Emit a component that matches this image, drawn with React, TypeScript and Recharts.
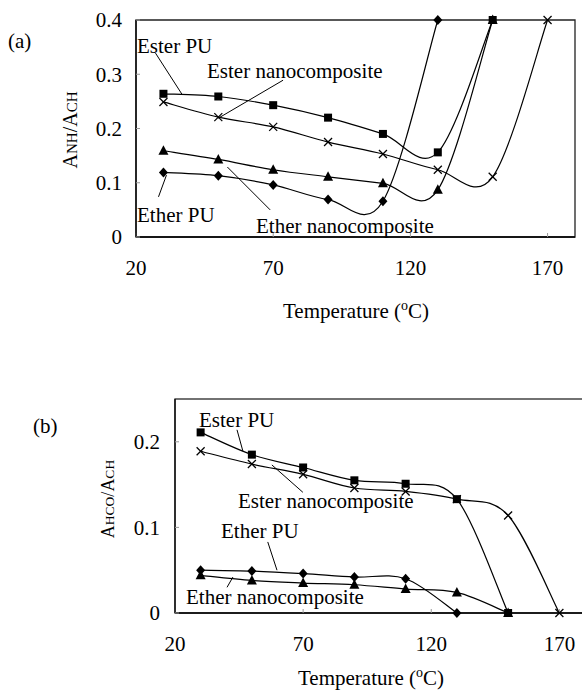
import React from "react";
import { LineChart, Line, XAxis, YAxis, ReferenceArea, ReferenceLine } from "recharts";

// temperatures (°C) shared by both panels
const temps = [30, 50, 70, 90, 110, 130, 150, 170];

// (a) A_NH / A_CH
const esterPuA = [0.264, 0.259, 0.243, 0.22, 0.19, 0.156, 0.4];
const esterNanoA = [0.249, 0.221, 0.203, 0.175, 0.153, 0.124, 0.111, 0.4];
const etherNanoA = [0.159, 0.143, 0.124, 0.111, 0.099, 0.087, 0.4];
const etherPuA = [0.119, 0.113, 0.096, 0.069, 0.066, 0.4];

// (b) A_HCO / A_CH
const esterPuB = [0.211, 0.185, 0.17, 0.155, 0.151, 0.133, 0];
const esterNanoB = [0.189, 0.174, 0.162, 0.146, 0.142, 0.133, 0.114, 0];
const etherPuB = [0.05, 0.049, 0.046, 0.042, 0.04, 0];
const etherNanoB = [0.044, 0.038, 0.035, 0.033, 0.028, 0.024, 0];

const xTicks = [20, 70, 120, 170];
const yTicksA = [0, 0.1, 0.2, 0.3, 0.4];
const yTicksB = [0, 0.1, 0.2];

// leader lines from labels to curves, in data units
const leadersA = [
  [{ x: 27.1, y: 0.339 }, { x: 36.9, y: 0.262 }],
  [{ x: 73.6, y: 0.289 }, { x: 50, y: 0.219 }],
  [{ x: 28.2, y: 0.074 }, { x: 31.1, y: 0.114 }],
  [{ x: 53.3, y: 0.129 }, { x: 68.9, y: 0.05 }],
];
const leadersB = [
  [{ x: 44.2, y: 0.214 }, { x: 46.5, y: 0.189 }],
  [{ x: 57.8, y: 0.173 }, { x: 69.9, y: 0.141 }],
  [{ x: 56.2, y: 0.083 }, { x: 59.8, y: 0.05 }],
  [{ x: 40.3, y: 0.03 }, { x: 42.6, y: 0.042 }],
];

const FONT = "'Liberation Serif', 'Times New Roman', serif";

function buildRows(series: Record<string, number[]>) {
  return temps.map((t, i) => {
    const row: Record<string, number | null> = { t };
    Object.keys(series).forEach((k) => {
      row[k] = i < series[k].length ? series[k][i] : null;
    });
    return row;
  });
}

const dataA = buildRows({ esterPu: esterPuA, esterNano: esterNanoA, etherNano: etherNanoA, etherPu: etherPuA });
const dataB = buildRows({ esterPu: esterPuB, esterNano: esterNanoB, etherNano: etherNanoB, etherPu: etherPuB });

// Excel-like smoothed line (Catmull-Rom through the points)
function smoothCurve(context: any) {
  let pts: number[][] = [];
  return {
    areaStart() {},
    areaEnd() {},
    lineStart() {
      pts = [];
    },
    point(x: number, y: number) {
      pts.push([+x, +y]);
    },
    lineEnd() {
      if (!pts.length) return;
      context.moveTo(pts[0][0], pts[0][1]);
      for (let i = 0; i < pts.length - 1; i++) {
        const p0 = pts[i - 1] || pts[i];
        const p1 = pts[i];
        const p2 = pts[i + 1];
        const p3 = pts[i + 2] || p2;
        context.bezierCurveTo(
          p1[0] + (p2[0] - p0[0]) / 6,
          p1[1] + (p2[1] - p0[1]) / 6,
          p2[0] - (p3[0] - p1[0]) / 6,
          p2[1] - (p3[1] - p1[1]) / 6,
          p2[0],
          p2[1]
        );
      }
    },
  };
}

const SquareDot = (p: any) =>
  p.cy == null ? <g key={p.key} /> : <rect key={p.key} x={p.cx - 4} y={p.cy - 4} width={8} height={8} fill="#000" />;

const DiamondDot = (p: any) =>
  p.cy == null ? (
    <g key={p.key} />
  ) : (
    <polygon
      key={p.key}
      points={`${p.cx},${p.cy - 5} ${p.cx + 4.5},${p.cy} ${p.cx},${p.cy + 5} ${p.cx - 4.5},${p.cy}`}
      fill="#000"
    />
  );

const TriangleDot = (p: any) =>
  p.cy == null ? (
    <g key={p.key} />
  ) : (
    <polygon
      key={p.key}
      points={`${p.cx},${p.cy - 5.5} ${p.cx + 5},${p.cy + 4} ${p.cx - 5},${p.cy + 4}`}
      fill="#000"
    />
  );

const CrossDot = (p: any) =>
  p.cy == null ? (
    <g key={p.key} />
  ) : (
    <g key={p.key} stroke="#000" strokeWidth={1.3}>
      <line x1={p.cx - 4} y1={p.cy - 4} x2={p.cx + 4} y2={p.cy + 4} />
      <line x1={p.cx - 4} y1={p.cy + 4} x2={p.cx + 4} y2={p.cy - 4} />
    </g>
  );

const tickStyle = { fontFamily: FONT, fontSize: 21, fill: "#000" };
const fmt = (v: number) => (v === 0 ? "0" : v.toFixed(1));

function Panel({
  data,
  width,
  height,
  margin,
  yWidth,
  xHeight,
  yMax,
  yTicks,
  yTickMargin,
  xTickMargin,
  leaders,
  boxStroke,
}: any) {
  return (
    <LineChart width={width} height={height} data={data} margin={margin}>
      <ReferenceArea x1={20} x2={180} y1={0} y2={yMax} fill="none" stroke={boxStroke} strokeWidth={1.3} />
      <XAxis
        type="number"
        dataKey="t"
        domain={[20, 180]}
        ticks={xTicks}
        interval={0}
        height={xHeight}
        tick={tickStyle}
        tickSize={-4}
        tickMargin={xTickMargin}
        tickLine={{ stroke: "#999" }}
        axisLine={{ stroke: "#000", strokeWidth: 1.3 }}
      />
      <YAxis
        type="number"
        domain={[0, yMax]}
        ticks={yTicks}
        interval={0}
        width={yWidth}
        tick={tickStyle}
        tickFormatter={fmt}
        tickSize={-4}
        tickMargin={yTickMargin}
        tickLine={{ stroke: "#999" }}
        axisLine={{ stroke: "#000", strokeWidth: 1.3 }}
      />
      {leaders.map((seg: any, i: number) => (
        <ReferenceLine key={i} segment={seg} stroke="#000" strokeWidth={1} />
      ))}
      <Line type={smoothCurve as any} dataKey="esterPu" stroke="#000" strokeWidth={1.2} dot={SquareDot} isAnimationActive={false} />
      <Line type={smoothCurve as any} dataKey="esterNano" stroke="#000" strokeWidth={1.2} dot={CrossDot} isAnimationActive={false} />
      <Line type={smoothCurve as any} dataKey="etherNano" stroke="#000" strokeWidth={1.2} dot={TriangleDot} isAnimationActive={false} />
      <Line type={smoothCurve as any} dataKey="etherPu" stroke="#000" strokeWidth={1.2} dot={DiamondDot} isAnimationActive={false} />
    </LineChart>
  );
}

export default function App() {
  const txt = { fontFamily: FONT, fontSize: 21, fill: "#000" };
  return (
    <div
      style={{
        position: "absolute",
        left: 0,
        top: 0,
        width: 582,
        height: 695,
        overflow: "hidden",
        background: "#fff",
      }}
    >
      <div style={{ position: "absolute", left: 0, top: 0 }}>
        <Panel
          data={dataA}
          width={582}
          height={330}
          margin={{ top: 20, right: 7, left: 0, bottom: 0 }}
          yWidth={136}
          xHeight={93}
          yMax={0.4}
          yTicks={yTicksA}
          yTickMargin={18}
          xTickMargin={27}
          leaders={leadersA}
          boxStroke="#222"
        />
      </div>
      <div style={{ position: "absolute", left: 0, top: 330 }}>
        <Panel
          data={dataB}
          width={600}
          height={365}
          margin={{ top: 69, right: 15, left: 0, bottom: 0 }}
          yWidth={175}
          xHeight={82}
          yMax={0.25}
          yTicks={yTicksB}
          yTickMargin={19}
          xTickMargin={27}
          leaders={leadersB}
          boxStroke="#444"
        />
      </div>
      <svg width={582} height={695} style={{ position: "absolute", left: 0, top: 0, pointerEvents: "none" }}>
        <text x={8} y={48} {...txt}>(a)</text>
        <text x={137} y={53} {...txt}>Ester PU</text>
        <text x={207} y={78} {...txt}>Ester nanocomposite</text>
        <text x={137} y={222} {...txt}>Ether PU</text>
        <text x={256} y={233} {...txt}>Ether nanocomposite</text>
        <text x={283} y={318} {...txt}>
          Temperature (<tspan dy={-8} fontSize={14}>o</tspan>
          <tspan dy={8}>C)</tspan>
        </text>
        <text transform="translate(77,130) rotate(-90)" textAnchor="middle" fontFamily={FONT} fontSize={20} fill="#000">
          A<tspan fontSize={15}>NH</tspan>/A<tspan fontSize={15}>CH</tspan>
        </text>

        <text x={33} y={433} {...txt}>(b)</text>
        <text x={199} y={427} {...txt}>Ester PU</text>
        <text x={238} y={508} {...txt}>Ester nanocomposite</text>
        <text x={221} y={538} {...txt}>Ether PU</text>
        <text x={186} y={604} {...txt}>Ether nanocomposite</text>
        <text x={298} y={685} {...txt}>
          Temperature (<tspan dy={-8} fontSize={14}>o</tspan>
          <tspan dy={8}>C)</tspan>
        </text>
        <text transform="translate(114,499) rotate(-90)" textAnchor="middle" fontFamily={FONT} fontSize={18} fill="#000">
          A<tspan fontSize={13.5}>HCO</tspan>/A<tspan fontSize={13.5}>CH</tspan>
        </text>
      </svg>
    </div>
  );
}
